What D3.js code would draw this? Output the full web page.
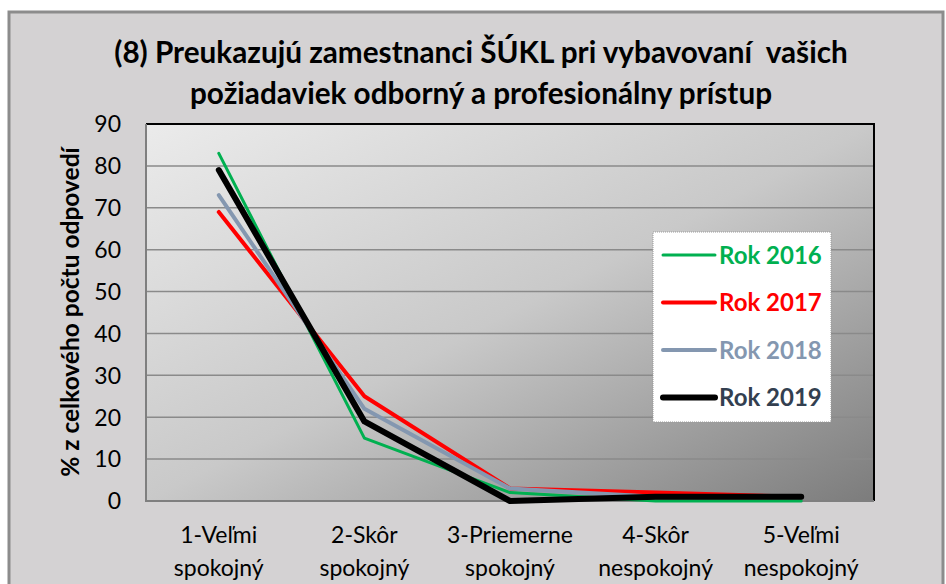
<!DOCTYPE html>
<html>
<head>
<meta charset="utf-8">
<script src="https://cdn.jsdelivr.net/npm/d3@7.9.0/dist/d3.min.js"></script>
<style>
  body { margin: 0; background: #fff; }
  svg { display: block; font-family: Lato, "Open Sans", sans-serif; }
</style>
</head>
<body>
<div id="vis"></div>
<script>
// data
const categories = [
  ["1-Veľmi", "spokojný"],
  ["2-Skôr", "spokojný"],
  ["3-Priemerne", "spokojný"],
  ["4-Skôr", "nespokojný"],
  ["5-Veľmi", "nespokojný"]
];
const years = ["Rok 2016", "Rok 2017", "Rok 2018", "Rok 2019"];
const values2016 = [83, 15, 2, 0, 0];
const values2017 = [69, 25, 3, 2, 1];
const values2018 = [73, 22, 3, 1, 1];
const values2019 = [79, 19, 0, 1, 1];
const yTicks = [0, 10, 20, 30, 40, 50, 60, 70, 80, 90];

const series = [
  { name: years[0], values: values2016, color: "#00b050", text: "#00b050", w: 3 },
  { name: years[1], values: values2017, color: "#ff0000", text: "#ff0000", w: 4 },
  { name: years[2], values: values2018, color: "#8497b0", text: "#8497b0", w: 4 },
  { name: years[3], values: values2019, color: "#000000", text: "#333f50", w: 6 }
];

const width = 946;
const height = 584;
const plot = { left: 146, right: 874, top: 124, bottom: 501 };

const xScale = d3
  .scaleBand()
  .domain(d3.range(categories.length))
  .range([plot.left, plot.right]);
const yScale = d3
  .scaleLinear()
  .domain([0, 90])
  .range([plot.bottom, plot.top]);

const svg = d3
  .select("#vis")
  .append("svg")
  .attr("width", width)
  .attr("height", height);

// outer chart area
svg
  .append("rect")
  .attr("x", 9)
  .attr("y", 12)
  .attr("width", 934)
  .attr("height", 580)
  .attr("fill", "#d4d2d3")
  .attr("stroke", "#8c8c8c")
  .attr("stroke-width", 3);

const defs = svg.append("defs");
const grad = defs
  .append("linearGradient")
  .attr("id", "plotbg")
  .attr("x1", 0)
  .attr("y1", 0)
  .attr("x2", 1)
  .attr("y2", 1);
grad.append("stop").attr("offset", 0).attr("stop-color", "#ebebeb");
grad.append("stop").attr("offset", 0.5).attr("stop-color", "#c9c9c9");
grad.append("stop").attr("offset", 1).attr("stop-color", "#7c7c7c");

svg
  .append("rect")
  .attr("x", plot.left)
  .attr("y", plot.top)
  .attr("width", plot.right - plot.left)
  .attr("height", plot.bottom - plot.top)
  .attr("fill", "url(#plotbg)");

// gridlines
svg
  .append("g")
  .selectAll("line")
  .data(yTicks.filter((d) => d > 0 && d < 90))
  .enter()
  .append("line")
  .attr("x1", plot.left)
  .attr("x2", plot.right)
  .attr("y1", (d) => yScale(d))
  .attr("y2", (d) => yScale(d))
  .attr("stroke", "#8a8a8a")
  .attr("stroke-width", 1.5);

// plot border: top and right dark, left and bottom grey
svg
  .append("path")
  .attr("d", `M${plot.left},${plot.top}H${plot.right}V${plot.bottom}`)
  .attr("fill", "none")
  .attr("stroke", "#000")
  .attr("stroke-width", 2);
svg
  .append("path")
  .attr("d", `M${plot.left},${plot.top}V${plot.bottom}H${plot.right}`)
  .attr("fill", "none")
  .attr("stroke", "#7f7f7f")
  .attr("stroke-width", 2);

// y tick labels
svg
  .append("g")
  .selectAll("text")
  .data(yTicks)
  .enter()
  .append("text")
  .attr("x", 121)
  .attr("y", (d) => yScale(d))
  .attr("dy", "0.36em")
  .attr("text-anchor", "end")
  .attr("font-size", 23)
  .attr("fill", "#000")
  .text((d) => d);

// x labels
const xl = svg
  .append("g")
  .selectAll("text")
  .data(categories)
  .enter()
  .append("text")
  .attr("text-anchor", "middle")
  .attr("font-size", 23)
  .attr("fill", "#000");
xl.append("tspan")
  .attr("x", (d, i) => xScale(i) + xScale.bandwidth() / 2)
  .attr("y", 543)
  .text((d) => d[0]);
xl.append("tspan")
  .attr("x", (d, i) => xScale(i) + xScale.bandwidth() / 2)
  .attr("y", 576)
  .text((d) => d[1]);

// y axis title
svg
  .append("text")
  .attr("transform", "translate(79,312) rotate(-90)")
  .attr("text-anchor", "middle")
  .attr("font-size", 24.5)
  .attr("font-weight", "bold")
  .attr("fill", "#000")
  .text("% z celkového počtu odpovedí");

// title
const title = svg
  .append("text")
  .attr("text-anchor", "middle")
  .attr("font-size", 29.7)
  .attr("font-weight", "bold")
  .attr("fill", "#000")
  .style("white-space", "pre");
title.append("tspan").attr("x", 481).attr("y", 63).text("(8) Preukazujú zamestnanci ŠÚKL pri vybavovaní  vašich");
title.append("tspan").attr("x", 481).attr("y", 104).text("požiadaviek odborný a profesionálny prístup");

// lines
const line = d3
  .line()
  .x((d, i) => xScale(i) + xScale.bandwidth() / 2)
  .y((d) => yScale(d));

svg
  .append("g")
  .selectAll("path")
  .data(series)
  .enter()
  .append("path")
  .attr("fill", "none")
  .attr("stroke", (d) => d.color)
  .attr("stroke-width", (d) => d.w)
  .attr("stroke-linecap", "round")
  .attr("stroke-linejoin", "round")
  .attr("d", (d) => line(d.values));

// legend
const legend = svg.append("g");
legend
  .append("rect")
  .attr("x", 653)
  .attr("y", 232)
  .attr("width", 178)
  .attr("height", 190)
  .attr("fill", "#fff")
  .attr("stroke", "#9a9a9a")
  .attr("stroke-width", 1)
  .attr("stroke-dasharray", "1,1");

const items = legend
  .selectAll("g")
  .data(series)
  .enter()
  .append("g")
  .attr("transform", (d, i) => `translate(0,${255 + i * 47.5})`);
items
  .append("line")
  .attr("x1", 663)
  .attr("x2", 715)
  .attr("stroke", (d) => d.color)
  .attr("stroke-width", (d) => d.w)
  .attr("stroke-linecap", "round");
items
  .append("text")
  .attr("x", 719)
  .attr("dy", "0.36em")
  .attr("font-size", 24)
  .attr("font-weight", "bold")
  .attr("fill", (d) => d.text)
  .text((d) => d.name);
</script>
</body>
</html>
